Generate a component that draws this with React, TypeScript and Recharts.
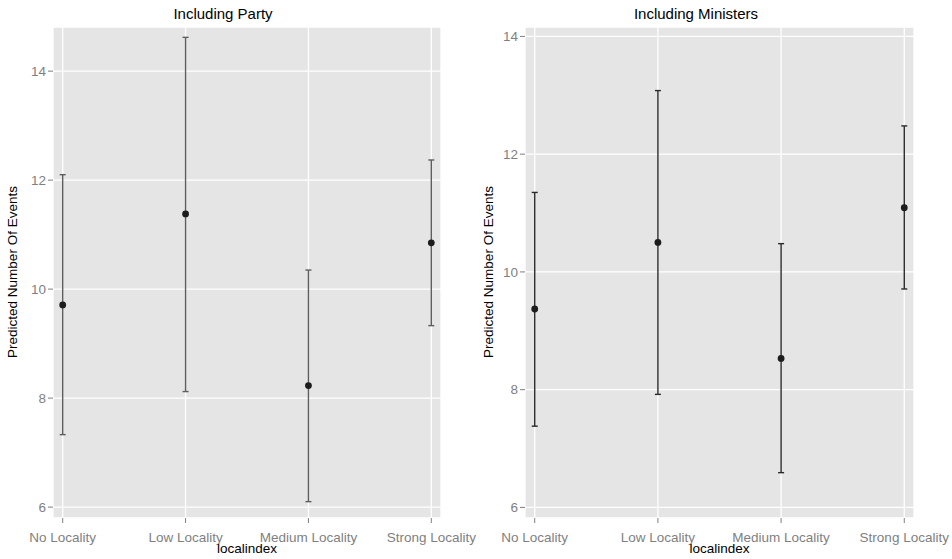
import React from "react";
import {
  ComposedChart,
  Scatter,
  ErrorBar,
  XAxis,
  YAxis,
  CartesianGrid,
} from "recharts";

const categories = ["No Locality", "Low Locality", "Medium Locality", "Strong Locality"];

const partyMean = [9.71, 11.38, 8.23, 10.85];
const partyLow = [7.33, 8.12, 6.1, 9.33];
const partyHigh = [12.1, 14.62, 10.35, 12.37];

const ministersMean = [9.37, 10.5, 8.53, 11.09];
const ministersLow = [7.38, 7.92, 6.59, 9.71];
const ministersHigh = [11.35, 13.08, 10.48, 12.48];

const yTicks = [6, 8, 10, 12, 14];

const FONT = "'Liberation Sans', Arial, sans-serif";

function buildRows(mean: number[], low: number[], high: number[]) {
  return categories.map((_, i) => ({
    x: i,
    y: mean[i],
    err: [mean[i] - low[i], high[i] - mean[i]],
  }));
}

interface PanelProps {
  left: number;
  title: string;
  titleX: number;
  rows: { x: number; y: number; err: number[] }[];
  domain: [number, number];
  yWidth: number;
  rightMargin: number;
  barColor: string;
}

function Panel({ left, title, titleX, rows, domain, yWidth, rightMargin, barColor }: PanelProps) {
  const plotLeft = yWidth;
  const plotW = 476 - yWidth - rightMargin;
  const centerX = plotLeft + plotW / 2;
  return (
    <div style={{ position: "absolute", left, top: 0, width: 476, height: 559 }}>
      <ComposedChart
        width={476}
        height={559}
        data={rows}
        margin={{ top: 27, right: rightMargin, bottom: 0, left: 0 }}
      >
        <CartesianGrid fill="#E5E5E5" stroke="#FFFFFF" strokeWidth={1.3} />
        <XAxis
          type="number"
          dataKey="x"
          domain={[-0.079, 3.079]}
          ticks={[0, 1, 2, 3]}
          tickFormatter={(v) => categories[v]}
          allowDataOverflow
          axisLine={false}
          tickLine={{ stroke: "#7F7F7F" }}
          tickSize={5}
          tickMargin={9}
          height={41}
          interval={0}
          tick={{ fill: "#7F7F7F", fontSize: 13.5, fontFamily: FONT }}
        />
        <YAxis
          type="number"
          dataKey="y"
          domain={domain}
          ticks={yTicks}
          allowDataOverflow
          axisLine={false}
          tickLine={{ stroke: "#7F7F7F" }}
          tickSize={5}
          tickMargin={2}
          width={yWidth}
          tick={{ fill: "#7F7F7F", fontSize: 13.5, fontFamily: FONT }}
        />
        <Scatter
          dataKey="y"
          isAnimationActive={false}
          shape={(p: any) => <circle cx={p.cx} cy={p.cy} r={3.4} fill="#1C1C1C" />}
        >
          <ErrorBar
            dataKey="err"
            direction="y"
            width={3}
            stroke={barColor}
            strokeWidth={1.4}
            isAnimationActive={false}
          />
        </Scatter>
      </ComposedChart>
      <div
        style={{
          position: "absolute",
          left: titleX - 150,
          width: 300,
          top: 5,
          textAlign: "center",
          fontFamily: FONT,
          fontSize: 15,
          color: "#000",
        }}
      >
        {title}
      </div>
      <div
        style={{
          position: "absolute",
          left: centerX - 150,
          width: 300,
          top: 541,
          textAlign: "center",
          fontFamily: FONT,
          fontSize: 13.5,
          color: "#000",
          lineHeight: "16px",
        }}
      >
        localindex
      </div>
      <div
        style={{
          position: "absolute",
          left: 13 - 150,
          top: 272 - 8,
          width: 300,
          height: 16,
          lineHeight: "16px",
          textAlign: "center",
          transform: "rotate(-90deg)",
          fontFamily: FONT,
          fontSize: 13.5,
          color: "#000",
        }}
      >
        Predicted Number Of Events
      </div>
    </div>
  );
}

export default function App() {
  return (
    <div
      style={{
        position: "absolute",
        left: 0,
        top: 0,
        width: 952,
        height: 559,
        background: "#FFFFFF",
        overflow: "hidden",
      }}
    >
      <Panel
        left={0}
        title="Including Party"
        titleX={223}
        rows={buildRows(partyMean, partyLow, partyHigh)}
        domain={[5.8, 14.81]}
        yWidth={53}
        rightMargin={35}
        barColor="#5E5E5E"
      />
      <Panel
        left={476}
        title="Including Ministers"
        titleX={220}
        rows={buildRows(ministersMean, ministersLow, ministersHigh)}
        domain={[5.82, 14.16]}
        yWidth={49}
        rightMargin={38}
        barColor="#2A2A2A"
      />
    </div>
  );
}
